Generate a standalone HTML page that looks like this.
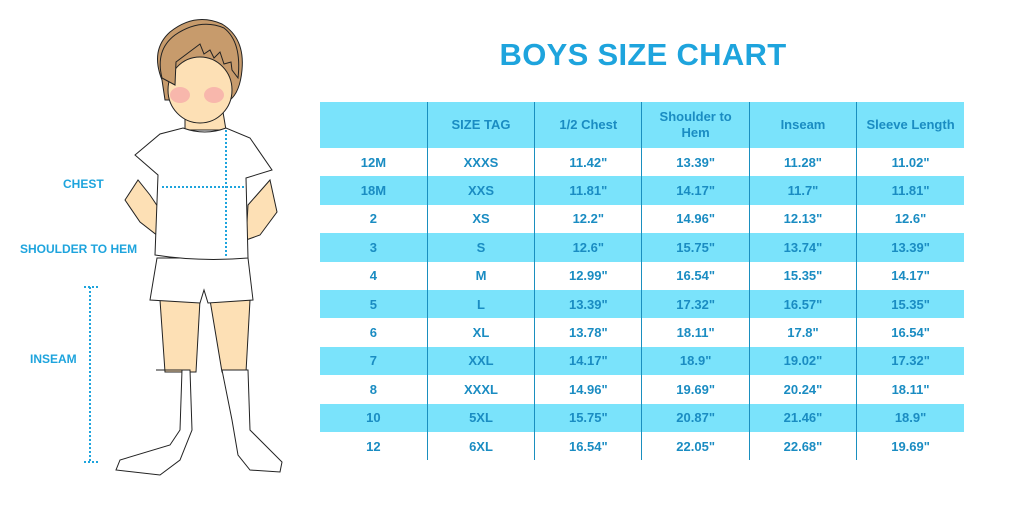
<!DOCTYPE html>
<html><head><style>
body{margin:0;width:1024px;height:512px;background:#fff;position:relative;overflow:hidden;font-family:"Liberation Sans",sans-serif}
.t{position:absolute;left:322px;top:37px;width:642px;text-align:center;font-size:31px;font-weight:bold;color:#1ea4dd;letter-spacing:0.3px}
table{position:absolute;left:320px;top:102px;border-collapse:collapse;width:644px;table-layout:fixed}
td{height:28.4px;padding:0;text-align:center;font-size:13px;font-weight:bold;color:#1a8cc2;border-left:1px solid #1a8fbf;border-right:1px solid #1a8fbf}
tr td:first-child{border-left:none}tr td:last-child{border-right:none}
tr.h td{height:46px;background:#7ae3fb;line-height:16px}
tr:nth-child(odd):not(.h) td{background:#7ae3fb}
.l{position:absolute;font-size:12px;font-weight:bold;color:#1ea4dd}
</style></head><body>
<svg width="320" height="512" style="position:absolute;left:0;top:0">
<g stroke="#222" stroke-width="1">
<path d="M160 300 L200 300 L196 372 L165 372 Z" fill="#fde0b5"/>
<path d="M210 300 L250 300 L246 372 L222 372 Z" fill="#fde0b5"/>
<path d="M156 370 L182 370 L180 430 L170 445 L120 460 L116 470 L160 475 L180 460 L192 430 L190 370 Z" fill="#fff"/>
<path d="M222 370 L248 370 L250 430 L282 462 L280 472 L250 470 L238 455 L232 420 Z" fill="#fff"/>
<path d="M138 180 L125 200 L140 222 L158 236 L160 210 L150 195 Z" fill="#fde0b5"/>
<path d="M270 180 L277 212 L260 235 L246 240 L248 205 Z" fill="#fde0b5"/>
<path d="M157 258 L248 258 L253 300 L208 303 L204 290 L200 303 L150 300 Z" fill="#fff"/>
<path d="M185 112 L223 112 L226 130 L185 130 Z" fill="#fde0b5"/>
<path d="M183 128 Q205 136 226 128 L250 138 L272 170 L246 178 L248 258 Q200 262 155 255 L158 175 L135 155 L160 134 Z" fill="#fff"/>
<path d="M162 80 Q150 50 170 32 Q195 12 222 24 Q245 38 242 70 Q240 92 230 100 L165 100 Z" fill="#c79b6c"/>
<ellipse cx="200" cy="90" rx="32" ry="33" fill="#fde0b5"/>
<path d="M162 78 Q155 50 175 35 Q200 18 224 28 Q242 42 238 78 L232 70 L231 62 L224 64 L220 52 L214 58 L210 50 L204 54 L200 44 L176 62 L175 85 Z" fill="#c79b6c"/>
</g>
<ellipse cx="180" cy="95" rx="10" ry="8" fill="#f5a5a8" opacity=".7"/>
<ellipse cx="214" cy="95" rx="10" ry="8" fill="#f5a5a8" opacity=".7"/>
<g stroke="#1ea4dd" stroke-width="2" stroke-dasharray="2 2" fill="none">
<path d="M162 187 H244"/><path d="M226 130 V258"/>
<path d="M90 287 V462"/><path d="M84 287 H98"/><path d="M84 462 H98"/>
</g>
</svg>
<div class="l" style="left:63px;top:177px">CHEST</div>
<div class="l" style="left:20px;top:242px">SHOULDER TO HEM</div>
<div class="l" style="left:30px;top:352px">INSEAM</div>
<div class="t">BOYS SIZE CHART</div>
<table>
<tr class="h"><td></td><td>SIZE TAG</td><td>1/2 Chest</td><td>Shoulder to<br>Hem</td><td>Inseam</td><td>Sleeve Length</td></tr>
<tr><td>12M</td><td>XXXS</td><td>11.42"</td><td>13.39"</td><td>11.28"</td><td>11.02"</td></tr>
<tr><td>18M</td><td>XXS</td><td>11.81"</td><td>14.17"</td><td>11.7"</td><td>11.81"</td></tr>
<tr><td>2</td><td>XS</td><td>12.2"</td><td>14.96"</td><td>12.13"</td><td>12.6"</td></tr>
<tr><td>3</td><td>S</td><td>12.6"</td><td>15.75"</td><td>13.74"</td><td>13.39"</td></tr>
<tr><td>4</td><td>M</td><td>12.99"</td><td>16.54"</td><td>15.35"</td><td>14.17"</td></tr>
<tr><td>5</td><td>L</td><td>13.39"</td><td>17.32"</td><td>16.57"</td><td>15.35"</td></tr>
<tr><td>6</td><td>XL</td><td>13.78"</td><td>18.11"</td><td>17.8"</td><td>16.54"</td></tr>
<tr><td>7</td><td>XXL</td><td>14.17"</td><td>18.9"</td><td>19.02"</td><td>17.32"</td></tr>
<tr><td>8</td><td>XXXL</td><td>14.96"</td><td>19.69"</td><td>20.24"</td><td>18.11"</td></tr>
<tr><td>10</td><td>5XL</td><td>15.75"</td><td>20.87"</td><td>21.46"</td><td>18.9"</td></tr>
<tr><td>12</td><td>6XL</td><td>16.54"</td><td>22.05"</td><td>22.68"</td><td>19.69"</td></tr>
</table>
</body></html>
